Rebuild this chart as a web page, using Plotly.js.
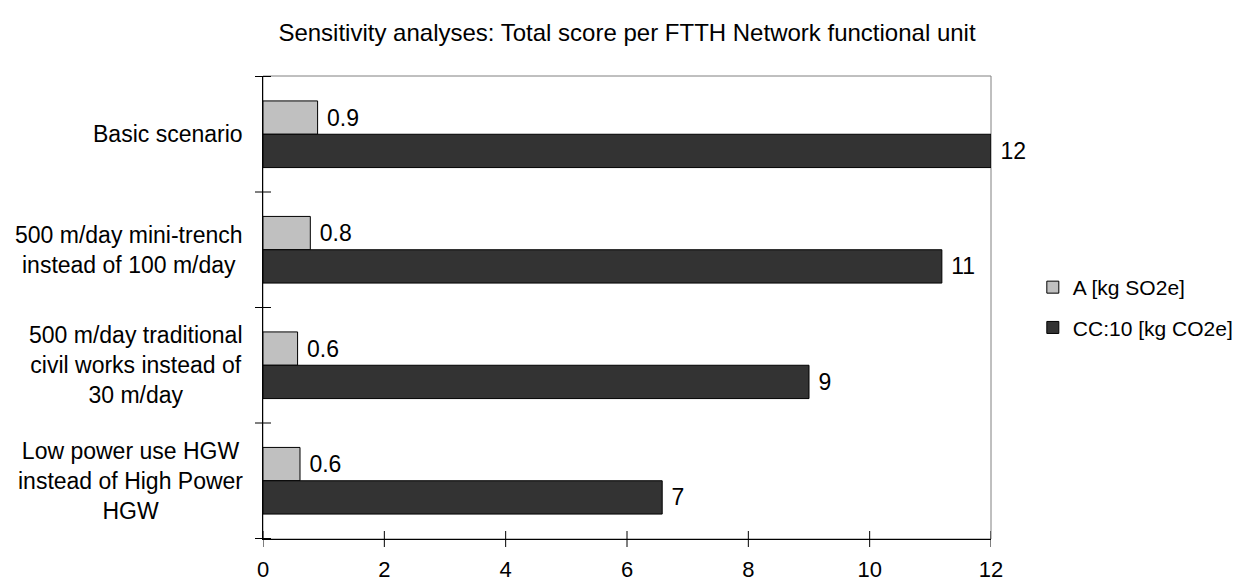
<!DOCTYPE html>
<html>
<head>
<meta charset="utf-8">
<script src="https://cdn.plot.ly/plotly-3.0.1.min.js"></script>
<style>html,body{margin:0;padding:0;background:#fff;}#chart{width:1249px;height:584px;}</style>
</head>
<body>
<div id="chart"></div>
<script>
var categories = ["Basic scenario", "500 m/day mini-trench instead of 100 m/day", "500 m/day traditional civil works instead of 30 m/day", "Low power use HGW instead of High Power HGW"];
var categoryLabels = ["Basic scenario", "500 m/day mini-trench<br>instead of 100 m/day", "500 m/day traditional<br>civil works instead of<br>30 m/day", "Low power use HGW<br>instead of High Power<br>HGW"];
var seriesNames = ["A [kg SO2e]", "CC:10 [kg CO2e]"];
var valuesA = [0.90, 0.78, 0.57, 0.61];
var valuesCC = [12.0, 11.19, 9.0, 6.58];
var xTicks = [0, 2, 4, 6, 8, 10, 12];

var FONT = "Liberation Sans, Arial, sans-serif";

var traces = [
  {type: "bar", orientation: "h", name: seriesNames[0], y: categories, x: valuesA, legendgroup: "a",
   marker: {color: "#c0c0c0", line: {color: "#000", width: 1}},
   texttemplate: "\u00a0%{x:.1f}", textposition: "outside", cliponaxis: false, constraintext: "none",
   textfont: {family: FONT, size: 23, color: "#000"}, hoverinfo: "x+y"},
  {type: "bar", orientation: "h", name: seriesNames[1], y: categories, x: valuesCC, legendgroup: "b",
   marker: {color: "#333333", line: {color: "#000", width: 1}},
   texttemplate: "\u00a0%{x:.0f}", textposition: "outside", cliponaxis: false, constraintext: "none",
   textfont: {family: FONT, size: 23, color: "#000"}, hoverinfo: "x+y"}
];

var annotations = categories.map(function(c, i) {
  return {xref: "paper", yref: "y", x: 0, y: c, xanchor: "right", yanchor: "middle",
          xshift: -18, align: "center", showarrow: false, text: categoryLabels[i],
          font: {family: FONT, size: 23, color: "#000"}};
});

// tick marks that cross the axis lines (Excel "cross" style), placed on the axes' own scales
var shapes = [{type: "rect", xref: "paper", yref: "paper", x0: 0, x1: 1, y0: 0, y1: 1,
               line: {color: "#808080", width: 1}, layer: "below"}];
xTicks.forEach(function(v) {
  shapes.push({type: "line", xref: "x", x0: v, x1: v, yref: "paper", ysizemode: "pixel", yanchor: 0,
               y0: -8, y1: 8, line: {color: "#000", width: 1}});
});
for (var i = 0; i <= categories.length; i++) {
  shapes.push({type: "line", yref: "y", y0: i - 0.5, y1: i - 0.5, xref: "paper", xsizemode: "pixel", xanchor: 0,
               x0: -8, x1: 8, line: {color: "#000", width: 1}});
}

var layout = {
  width: 1249, height: 584,
  margin: {l: 263, r: 257, t: 76, b: 45, pad: 0},
  paper_bgcolor: "#fff", plot_bgcolor: "#fff",
  font: {family: FONT, color: "#000"},
  title: {text: "Sensitivity analyses: Total score per FTTH Network functional unit",
          font: {family: FONT, size: 24, color: "#000"}, x: 0.5, xanchor: "center", xref: "paper",
          y: 0.945, yanchor: "middle"},
  barmode: "group", bargap: 0.423, bargroupgap: 0,
  xaxis: {range: [0, 12], tickvals: xTicks, ticktext: xTicks.map(String), showgrid: false, zeroline: false,
          showline: true, linecolor: "#000", linewidth: 1, ticks: "outside", ticklen: 8, tickcolor: "rgba(0,0,0,0)",
          ticklabelstandoff: 3,
          tickfont: {family: FONT, size: 22, color: "#000"}, fixedrange: true},
  yaxis: {type: "category", categoryarray: categories, categoryorder: "array", autorange: "reversed",
          showticklabels: false, showgrid: false, zeroline: false, showline: true, linecolor: "#000",
          linewidth: 1, ticks: "", fixedrange: true},
  legend: {x: 1.056, xanchor: "left", y: 0.5, yanchor: "middle", font: {family: FONT, size: 21, color: "#000"},
           traceorder: "grouped", tracegroupgap: 10, bgcolor: "rgba(0,0,0,0)"},
  shapes: shapes,
  annotations: annotations,
  showlegend: true
};

Plotly.newPlot("chart", traces, layout, {displayModeBar: false, staticPlot: true});
</script>
</body>
</html>
